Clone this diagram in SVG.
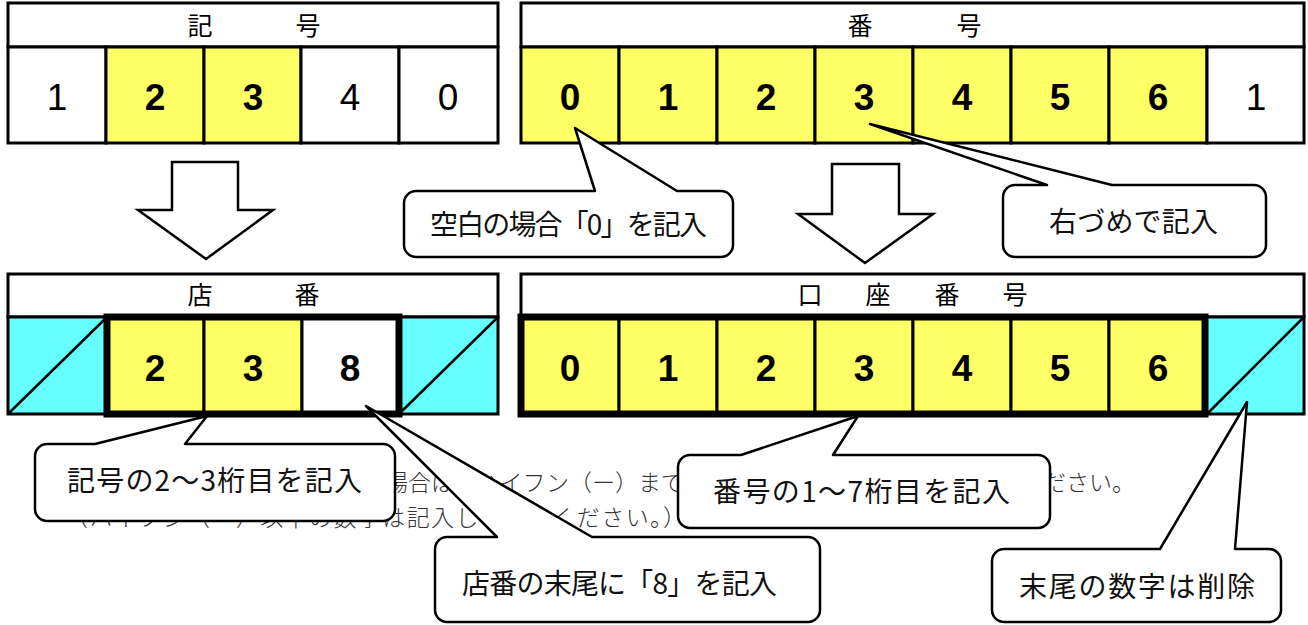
<svg xmlns="http://www.w3.org/2000/svg" width="1308" height="625" viewBox="0 0 1308 625">
<style>
.cell{stroke:#000;stroke-width:3}
.y{fill:#FFFF66}
.w{fill:#fff}
.c{fill:#66FFFF}
.ln{stroke:#000;stroke-width:2.5;fill:none}
.thick{fill:none;stroke:#000;stroke-width:7}
.hd{font-family:"Noto Sans CJK JP","Liberation Sans",sans-serif;font-size:25px;text-anchor:middle;fill:#000}
.dg{font-family:"Liberation Sans",Arial,sans-serif;font-size:37px;text-anchor:middle;fill:#000}
.b{font-weight:bold}
.arr{fill:#fff;stroke:#000;stroke-width:2.5;stroke-linejoin:miter}
.co{fill:#fff;stroke:#000;stroke-width:2.5;stroke-linejoin:round}
.ct{font-family:"Noto Sans CJK JP","Liberation Sans",sans-serif;font-size:28px;fill:#111}
.bg{font-family:"Noto Sans CJK JP","Liberation Sans",sans-serif;font-size:23px;fill:#333;font-weight:300}
</style>
<rect width="1308" height="625" fill="#fff"/>

<g id="kigou">
  <rect class="cell w" x="8" y="3" width="490" height="44"/>
  <rect class="cell w" x="8" y="47" width="98" height="96"/>
  <rect class="cell y" x="106" y="47" width="98" height="96"/>
  <rect class="cell y" x="204" y="47" width="97" height="96"/>
  <rect class="cell w" x="301" y="47" width="98" height="96"/>
  <rect class="cell w" x="399" y="47" width="99" height="96"/>
  <text class="hd" y="34.5"><tspan x="200">記</tspan><tspan x="308">号</tspan></text>
  <text class="dg" x="57" y="110">1</text>
  <text class="dg b" x="155" y="110">2</text>
  <text class="dg b" x="253" y="110">3</text>
  <text class="dg" x="350" y="110">4</text>
  <text class="dg" x="448" y="110">0</text>
</g>

<g id="bangou">
  <rect class="cell w" x="521" y="3" width="783" height="44"/>
  <rect class="cell y" x="521" y="47" width="98" height="96"/>
  <rect class="cell y" x="619" y="47" width="98" height="96"/>
  <rect class="cell y" x="717" y="47" width="98" height="96"/>
  <rect class="cell y" x="815" y="47" width="98" height="96"/>
  <rect class="cell y" x="913" y="47" width="98" height="96"/>
  <rect class="cell y" x="1011" y="47" width="98" height="96"/>
  <rect class="cell y" x="1109" y="47" width="98" height="96"/>
  <rect class="cell w" x="1207" y="47" width="97" height="96"/>
  <text class="hd" y="34.5"><tspan x="860">番</tspan><tspan x="969">号</tspan></text>
  <text class="dg b" x="570" y="110">0</text>
  <text class="dg b" x="668" y="110">1</text>
  <text class="dg b" x="766" y="110">2</text>
  <text class="dg b" x="864" y="110">3</text>
  <text class="dg b" x="962" y="110">4</text>
  <text class="dg b" x="1060" y="110">5</text>
  <text class="dg b" x="1158" y="110">6</text>
  <text class="dg" x="1256" y="110">1</text>
</g>

<g id="tenban">
  <rect class="cell w" x="8" y="274" width="490" height="43"/>
  <rect class="cell c" x="8" y="317" width="99" height="97"/>
  <rect class="cell y" x="107" y="317" width="97" height="97"/>
  <rect class="cell y" x="204" y="317" width="98" height="97"/>
  <rect class="cell w" x="302" y="317" width="97" height="97"/>
  <rect class="cell c" x="399" y="317" width="99" height="97"/>
  <line class="ln" x1="9" y1="413" x2="106" y2="318"/>
  <line class="ln" x1="400" y1="413" x2="497" y2="318"/>
  <rect class="thick" x="107" y="317" width="292" height="97"/>
  <text class="hd" y="304"><tspan x="200">店</tspan><tspan x="307">番</tspan></text>
  <text class="dg b" x="155" y="381">2</text>
  <text class="dg b" x="253" y="381">3</text>
  <text class="dg b" x="350" y="381">8</text>
</g>

<g id="kouza">
  <rect class="cell w" x="521" y="274" width="783" height="43"/>
  <rect class="cell y" x="521" y="317" width="98" height="97"/>
  <rect class="cell y" x="619" y="317" width="98" height="97"/>
  <rect class="cell y" x="717" y="317" width="98" height="97"/>
  <rect class="cell y" x="815" y="317" width="98" height="97"/>
  <rect class="cell y" x="913" y="317" width="98" height="97"/>
  <rect class="cell y" x="1011" y="317" width="98" height="97"/>
  <rect class="cell y" x="1109" y="317" width="96" height="97"/>
  <rect class="cell c" x="1205" y="317" width="99" height="97"/>
  <line class="ln" x1="1208" y1="413" x2="1303" y2="318"/>
  <rect class="thick" x="521" y="317" width="684" height="97"/>
  <text class="hd" y="304"><tspan x="810">口</tspan><tspan x="878">座</tspan><tspan x="947">番</tspan><tspan x="1015">号</tspan></text>
  <text class="dg b" x="570" y="381">0</text>
  <text class="dg b" x="668" y="381">1</text>
  <text class="dg b" x="766" y="381">2</text>
  <text class="dg b" x="864" y="381">3</text>
  <text class="dg b" x="962" y="381">4</text>
  <text class="dg b" x="1060" y="381">5</text>
  <text class="dg b" x="1158" y="381">6</text>
</g>

<g id="connectors">
  <polygon id="arrow-left" class="arr" points="172,162 238,162 238,210 273,210 206,259 138,210 172,210"/>
  <polygon id="arrow-right" class="arr" points="832,164 899,164 899,214 933,214 865,263 798,214 832,214"/>
</g>

<g id="note">
  <text class="bg" x="385" y="491">場合は、ハイフン（ー）まで</text>
  <text class="bg" x="1020" y="491">ください。</text>
  <text class="bg" x="65" y="526" textLength="621">（ハイフン（ー）以下の数字は記入しないでください。）</text>
</g>

<g id="callout-kuuhaku">
  <path class="co" d="M416,191 L595,191 L575,128 L677,191 L721,191 A12,12 0 0 1 733,203 L733,245 A12,12 0 0 1 721,257 L416,257 A12,12 0 0 1 404,245 L404,203 A12,12 0 0 1 416,191 Z"/>
  <text class="ct" x="430" y="235" textLength="277">空白の場合「0」を記入</text>
</g>

<g id="callout-migizume">
  <path class="co" d="M1015,185 L1047,185 L870,124 L1112,185 L1254,185 A12,12 0 0 1 1266,197 L1266,245 A12,12 0 0 1 1254,257 L1015,257 A12,12 0 0 1 1003,245 L1003,197 A12,12 0 0 1 1015,185 Z"/>
  <text class="ct" x="1049" y="232" textLength="169">右づめで記入</text>
</g>

<g id="callout-kigou">
  <path class="co" d="M47,444 L95,444 L207,416 L185,444 L383,444 A12,12 0 0 1 395,456 L395,509 A12,12 0 0 1 383,521 L47,521 A12,12 0 0 1 35,509 L35,456 A12,12 0 0 1 47,444 Z"/>
  <text class="ct" x="67" y="491" textLength="295">記号の2～3桁目を記入</text>
</g>

<g id="callout-bangou">
  <path class="co" d="M690,455 L741,455 L858,416 L833,455 L1038,455 A12,12 0 0 1 1050,467 L1050,516 A12,12 0 0 1 1038,528 L690,528 A12,12 0 0 1 678,516 L678,467 A12,12 0 0 1 690,455 Z"/>
  <text class="ct" x="713" y="502" textLength="297">番号の1～7桁目を記入</text>
</g>

<g id="callout-tenban">
  <path class="co" d="M447,537 L497,537 L366,406 L592,537 L808,537 A12,12 0 0 1 820,549 L820,610 A12,12 0 0 1 808,622 L447,622 A12,12 0 0 1 435,610 L435,549 A12,12 0 0 1 447,537 Z"/>
  <text class="ct" x="462" y="594" textLength="315">店番の末尾に「8」を記入</text>
</g>

<g id="callout-sakujo">
  <path class="co" d="M1004,549 L1160,549 L1247,402 L1235,549 L1269,549 A12,12 0 0 1 1281,561 L1281,610 A12,12 0 0 1 1269,622 L1004,622 A12,12 0 0 1 992,610 L992,561 A12,12 0 0 1 1004,549 Z"/>
  <text class="ct" x="1019" y="597" textLength="236">末尾の数字は削除</text>
</g>
</svg>
